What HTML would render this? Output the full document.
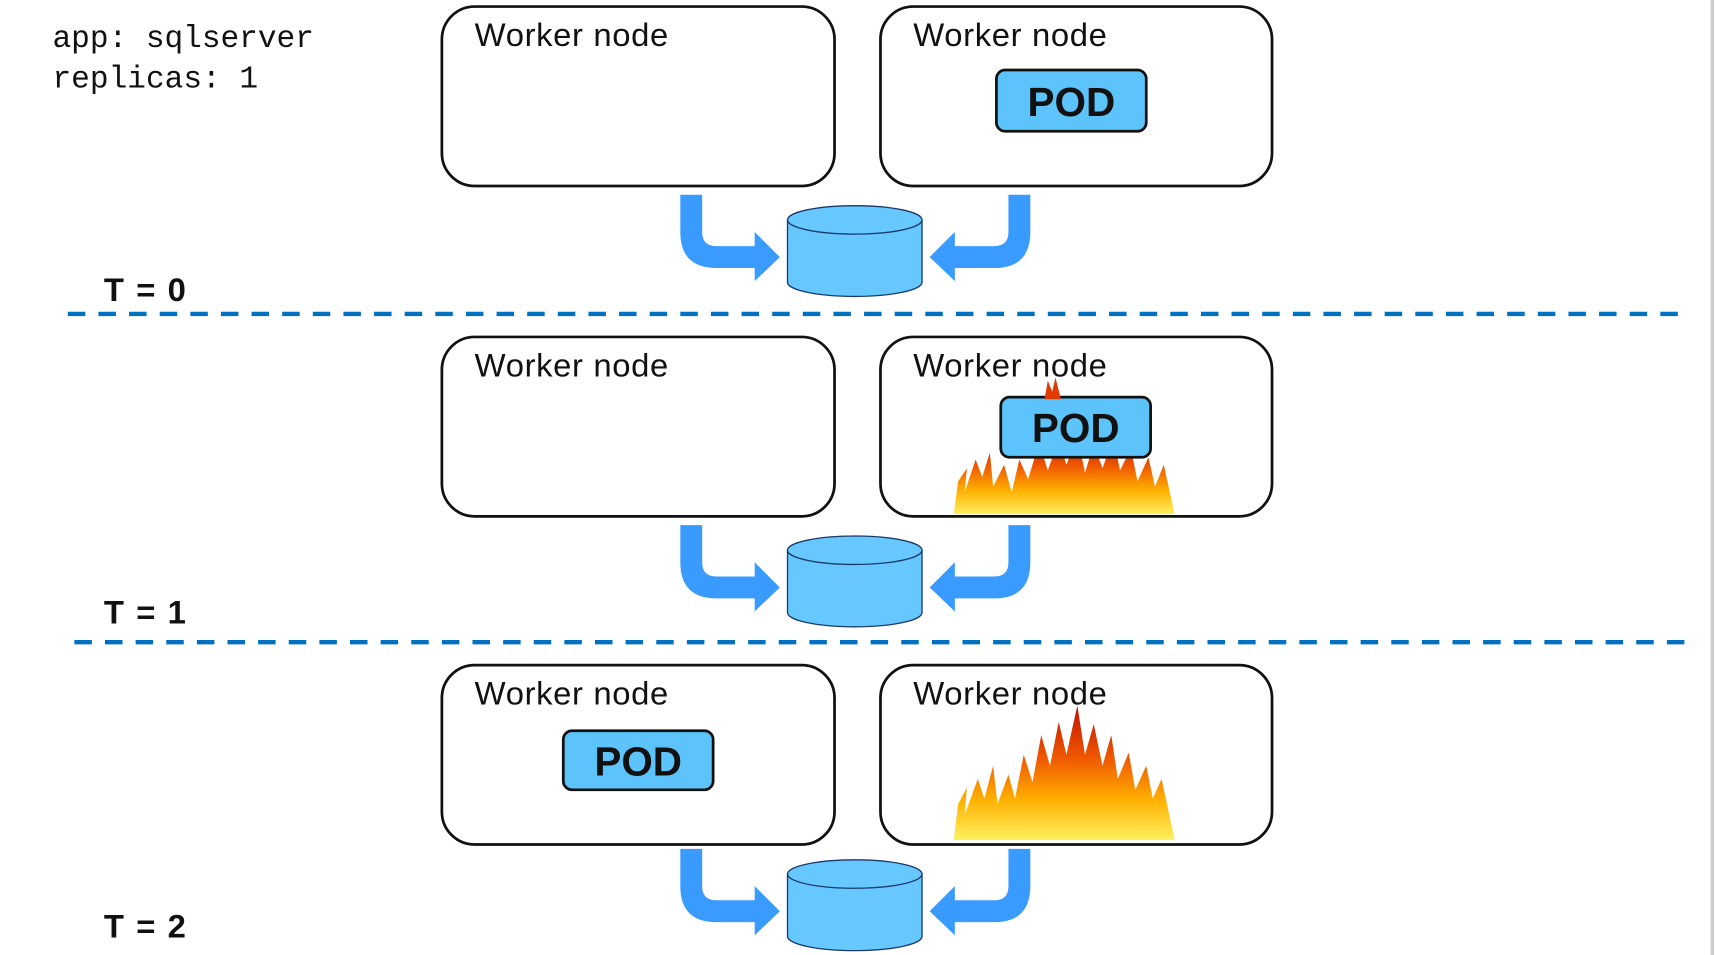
<!DOCTYPE html>
<html><head><meta charset="utf-8"><style>html,body{margin:0;padding:0;background:#fff;}svg{display:block}</style></head>
<body>
<svg width="1715" height="955" viewBox="0 0 1568 873" preserveAspectRatio="none" xmlns="http://www.w3.org/2000/svg">
<defs>
<linearGradient id="fg" x1="0" y1="0" x2="0" y2="1">
<stop offset="0" stop-color="#c01000"/><stop offset="0.4" stop-color="#f05a00"/><stop offset="0.7" stop-color="#ffb000"/><stop offset="1" stop-color="#fff060"/></linearGradient>
<g id="arrows">
<path d="M622 178 L642 178 L642 212 Q642 225 655 225 L690 225 L690 212 L713 235 L690 257 L690 245 L655 245 Q622 245 622 212 Z" fill="#3a9bff"/>
<path d="M942 178 L922 178 L922 212 Q922 225 909 225 L873 225 L873 212 L850 235 L873 257 L873 245 L909 245 Q942 245 942 212 Z" fill="#3a9bff"/>
<path d="M720 201 L720 258 A61.5 13 0 0 0 843 258 L843 201 Z" fill="#66c8ff" stroke="#1a3a6a" stroke-width="1.2"/>
<ellipse cx="781.5" cy="201" rx="61.5" ry="13" fill="#66c8ff" stroke="#1a3a6a" stroke-width="1.2"/>
</g>
<g id="boxes">
<rect x="404" y="6" width="359" height="164" rx="30" fill="#fff" stroke="#111" stroke-width="2.5"/>
<rect x="805" y="6" width="358" height="164" rx="30" fill="#fff" stroke="#111" stroke-width="2.5"/>
<text x="434" y="42" font-family="Liberation Sans, sans-serif" font-size="30" textLength="177" fill="#111">Worker node</text>
<text x="835" y="42" font-family="Liberation Sans, sans-serif" font-size="30" textLength="177" fill="#111">Worker node</text>
</g>
</defs>
<rect x="1564" y="0" width="3" height="873" fill="#ccc"/>
<text x="48" y="43" font-family="Liberation Mono, monospace" font-size="28.5" textLength="239" fill="#111">app: sqlserver</text>
<text x="48" y="80" font-family="Liberation Mono, monospace" font-size="28.5" textLength="188" fill="#111">replicas: 1</text>

<use href="#boxes"/>
<use href="#arrows"/>
<rect x="911" y="64" width="137" height="56" rx="8" fill="#5cc4fa" stroke="#111" stroke-width="2.5"/>
<text x="979.5" y="106" text-anchor="middle" font-family="Liberation Sans, sans-serif" font-weight="bold" font-size="37" fill="#111">POD</text>
<text x="95" y="275" font-family="Liberation Sans, sans-serif" font-weight="bold" font-size="30" textLength="75" fill="#111">T = 0</text>
<line x1="62" y1="287" x2="1535" y2="287" stroke="#0070c0" stroke-width="4" stroke-dasharray="16 12"/>

<g transform="translate(0,302)"><use href="#boxes"/><use href="#arrows"/></g>
<path d="M872 470 L876 440 L884 428 L882 450 L892 420 L898 436 L905 414 L908 445 L918 425 L925 450 L932 420 L940 438 L950 405 L958 430 L968 402 L975 425 L985 398 L992 432 L1000 406 L1008 428 L1018 400 L1024 430 L1034 410 L1040 440 L1050 418 L1056 445 L1064 425 L1070 452 L1074 470 Z" fill="url(#fg)"/>
<rect x="915" y="363" width="137" height="55" rx="8" fill="#5cc4fa" stroke="#111" stroke-width="2.5"/>
<text x="983.5" y="404" text-anchor="middle" font-family="Liberation Sans, sans-serif" font-weight="bold" font-size="37" fill="#111">POD</text>
<path d="M955 365 L958 348 L962 358 L965 345 L970 365 Z" fill="#e03a00"/>
<text x="95" y="570" font-family="Liberation Sans, sans-serif" font-weight="bold" font-size="30" textLength="75" fill="#111">T = 1</text>
<line x1="68" y1="587" x2="1540" y2="587" stroke="#0070c0" stroke-width="4" stroke-dasharray="16 12"/>

<g transform="translate(0,602)"><use href="#boxes"/></g>
<g transform="translate(0,598)"><use href="#arrows"/></g>
<rect x="515" y="668" width="137" height="54" rx="8" fill="#5cc4fa" stroke="#111" stroke-width="2.5"/>
<text x="583.5" y="709" text-anchor="middle" font-family="Liberation Sans, sans-serif" font-weight="bold" font-size="37" fill="#111">POD</text>
<path d="M872 768 L876 735 L884 720 L882 745 L894 712 L900 730 L908 700 L912 735 L922 708 L928 730 L936 690 L944 715 L952 672 L960 700 L968 660 L975 690 L985 645 L992 690 L1000 662 L1008 700 L1016 672 L1022 712 L1032 688 L1038 722 L1048 700 L1054 730 L1062 712 L1068 740 L1074 768 Z" fill="url(#fg)"/>
<text x="95" y="857" font-family="Liberation Sans, sans-serif" font-weight="bold" font-size="30" textLength="75" fill="#111">T = 2</text>
</svg>
</body></html>
